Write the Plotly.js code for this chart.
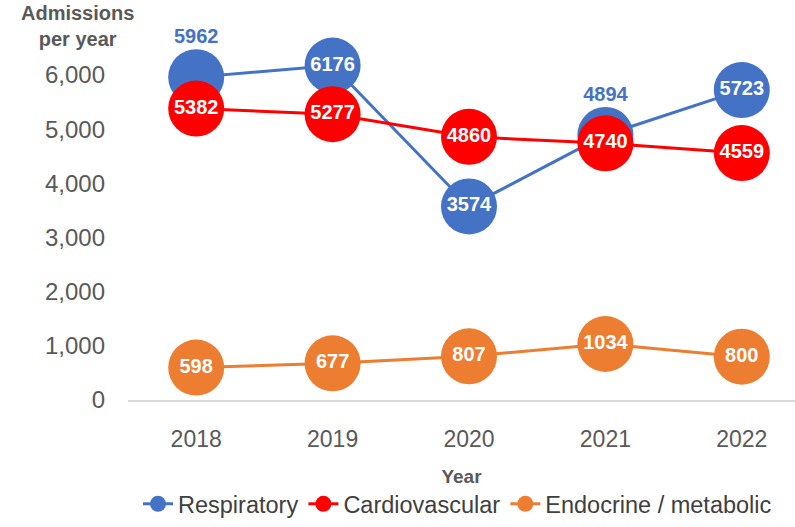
<!DOCTYPE html>
<html>
<head>
<meta charset="utf-8">
<script src="https://cdn.plot.ly/plotly-3.0.1.min.js"></script>
<style>
  html, body { margin: 0; padding: 0; background: #fff; }
  #chart { width: 795px; height: 527px; }
</style>
</head>
<body>
<div id="chart"></div>
<script>
var years = ['2018', '2019', '2020', '2021', '2022'];
var respiratory = [5962, 6176, 3574, 4894, 5723];
var cardiovascular = [5382, 5277, 4860, 4740, 4559];
var endocrine = [598, 677, 807, 1034, 800];

var blue = '#4472C4', red = '#FF0000', orange = '#ED7D31';

// respiratory points whose label is pushed above the marker (red marker covers it)
var respAbove = [true, false, false, true, false];

function series(name, vals, color, above) {
  return {
    x: years,
    y: vals,
    name: name,
    type: 'scatter',
    mode: 'lines+markers+text',
    line: {color: color, width: 3},
    marker: {color: color, size: 56},
    // empty lines under the number lift it above the marker
    text: vals.map(function (v, i) { return above && above[i] ? v + '<br> <br> <br> ' : String(v); }),
    textposition: 'middle center',
    textfont: {
      family: 'Liberation Sans, Arial, sans-serif', size: 20, weight: 'bold',
      color: vals.map(function (v, i) { return above && above[i] ? color : '#fff'; })
    },
    cliponaxis: false,
    hoverinfo: 'x+y+name'
  };
}

var data = [
  series('Respiratory', respiratory, blue, respAbove),
  series('Cardiovascular', cardiovascular, red),
  series('Endocrine / metabolic', endocrine, orange)
];

var layout = {
  width: 795,
  height: 527,
  margin: {l: 127.5, r: 0, t: 48, b: 127},
  paper_bgcolor: '#fff',
  plot_bgcolor: '#fff',
  font: {family: 'Liberation Sans, Arial, sans-serif', color: '#595959'},
  showlegend: true,
  legend: {
    orientation: 'h',
    x: 0.494, xanchor: 'center',
    y: -0.358, yanchor: 'bottom',
    font: {size: 23.5, color: '#404040'},
    traceorder: 'normal'
  },
  xaxis: {
    type: 'category',
    range: [-0.5, 4.39],
    showline: true,
    linecolor: '#d9d9d9',
    linewidth: 1.5,
    showgrid: false,
    zeroline: false,
    ticks: '',
    ticklabelstandoff: 18,
    tickfont: {size: 23, color: '#595959'},
    title: {text: 'Year', font: {size: 19, color: '#595959', weight: 'bold'}, standoff: 18}
  },
  yaxis: {
    range: [0, 6500],
    tickvals: [0, 1000, 2000, 3000, 4000, 5000, 6000],
    tickformat: ',d',
    showline: false,
    showgrid: false,
    zeroline: false,
    ticks: '',
    ticklabelstandoff: 22,
    tickfont: {size: 24, color: '#595959'}
  },
  annotations: [{
    text: '<b>Admissions<br>per year</b>',
    xref: 'paper', yref: 'paper',
    x: -0.075, y: 1.135,
    xanchor: 'center', yanchor: 'top',
    showarrow: false,
    align: 'center',
    font: {size: 20, color: '#595959'}
  }]
};

Plotly.newPlot('chart', data, layout, {displayModeBar: false, staticPlot: true});
</script>
</body>
</html>
